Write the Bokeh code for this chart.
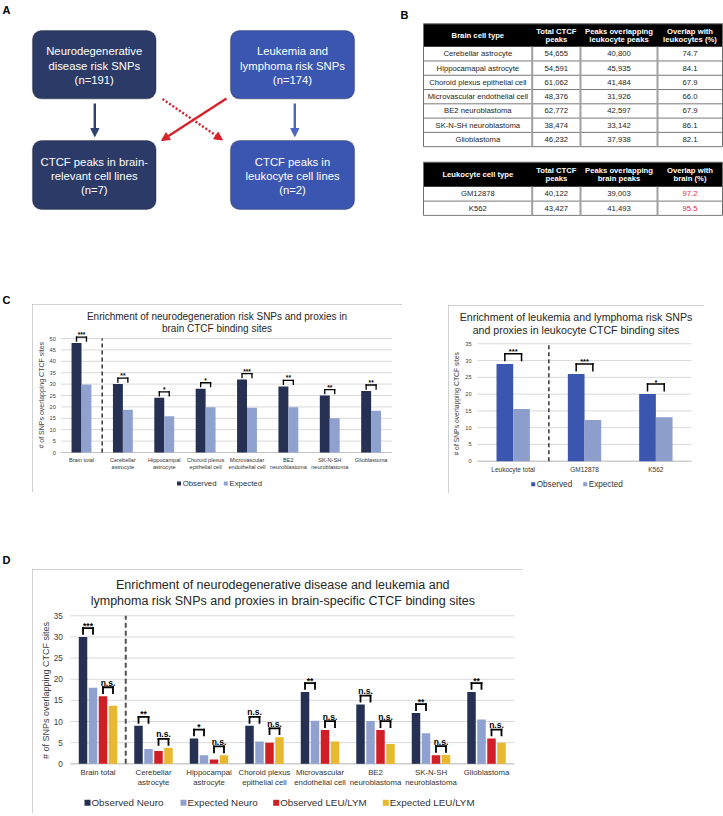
import numpy as np
from bokeh.plotting import figure
from bokeh.models import Range1d, BoxAnnotation, Arrow, NormalHead, Spacer
from bokeh.layouts import column, row
from bokeh.core.properties import value
from bokeh.embed import file_html
from bokeh.resources import INLINE

FONT = "Liberation Sans"

# ---------------- Panel A: flow diagram texts ----------------
flow_lines = [
    ["Neurodegenerative", "disease risk SNPs", "(n=191)"],
    ["Leukemia and", "lymphoma risk SNPs", "(n=174)"],
    ["CTCF peaks in brain-", "relevant cell lines", "(n=7)"],
    ["CTCF peaks in", "leukocyte cell lines", "(n=2)"],
]

# ---------------- Panel B: tables ----------------
brain_header = ["Brain cell type", "Total CTCF\npeaks", "Peaks overlapping\nleukocyte peaks",
                "Overlap with\nleukocytes (%)"]
brain_cell_types = ["Cerebellar astrocyte", "Hippocamapal astrocyte", "Choroid plexus epithelial cell",
                    "Microvascular endothelial cell", "BE2 neuroblastoma", "SK-N-SH neuroblastoma",
                    "Glioblastoma"]
brain_total_peaks = ["54,655", "54,591", "61,062", "48,376", "62,772", "38,474", "46,232"]
brain_overlap_peaks = ["40,800", "45,935", "41,484", "31,926", "42,597", "33,142", "37,938"]
brain_overlap_pct = ["74.7", "84.1", "67.9", "66.0", "67.9", "86.1", "82.1"]

leuk_header = ["Leukocyte cell type", "Total CTCF\npeaks", "Peaks overlapping\nbrain peaks",
               "Overlap with\nbrain (%)"]
leuk_cell_types = ["GM12878", "K562"]
leuk_total_peaks = ["40,122", "43,427"]
leuk_overlap_peaks = ["39,003", "41,493"]
leuk_overlap_pct = ["97.2", "95.5"]

# ---------------- Panel C ----------------
neuro_cats = ["Brain total", "Cerebellar\nastrocyte", "Hippocampal\nastrocyte",
              "Choroid plexus\nepithelial cell", "Microvascular\nendothelial cell",
              "BE2\nneuroblastoma", "SK-N-SH\nneuroblastoma", "Glioblastoma"]
neuro_observed = [48, 30, 24, 28, 32, 29, 25, 27]
neuro_expected = [29.8, 18.7, 15.9, 19.9, 19.6, 19.9, 15.0, 18.3]
neuro_sig = ["***", "**", "*", "*", "***", "**", "**", "**"]
neuro_ticks = [0, 5, 10, 15, 20, 25, 30, 35, 40, 45, 50]

leuk_cats = ["Leukocyte total", "GM12878", "K562"]
leuk_observed = [29, 26, 20]
leuk_expected = [15.6, 12.3, 13.1]
leuk_sig = ["***", "***", "*"]
leuk_ticks = [0, 5, 10, 15, 20, 25, 30, 35]

c_legend = ["Observed", "Expected"]

# ---------------- Panel D ----------------
d_cats = neuro_cats
d_obs_neuro = [30, 9, 6, 9, 17, 14, 12, 17]
d_exp_neuro = [18.0, 3.5, 2.0, 5.3, 10.2, 10.1, 7.2, 10.5]
d_obs_leu = [16, 3, 1, 5, 8, 8, 2, 6]
d_exp_leu = [13.7, 3.8, 2.0, 6.3, 5.3, 4.7, 2.1, 5.0]
d_sig_neuro = ["***", "**", "*", "n.s.", "**", "n.s.", "**", "**"]
d_sig_leu = ["n.s.", "n.s.", "n.s.", "n.s.", "n.s.", "n.s.", "n.s.", "n.s."]
d_ticks = [0, 5, 10, 15, 20, 25, 30, 35]
d_legend = ["Observed Neuro", "Expected Neuro", "Observed LEU/LYM", "Expected LEU/LYM"]

Y_LABEL = "# of SNPs overlapping CTCF sites"

NAVY = "#263052"
LIGHT = "#8FA1CE"
BLUE = "#3B56AF"
LIGHT2 = "#8D9ECC"
RED = "#D21F27"
GOLD = "#E8B830"

BOX_STYLE = {"outline": "1px solid #a3a3a3", "outline-offset": "-1px"}
TXT = dict(text_font=value(FONT))

# ======================= top figure (A + B) =======================
top = figure(width=723, height=290, x_range=Range1d(0, 723), y_range=Range1d(-290, 0),
             output_backend="svg", toolbar_location=None, x_axis_type=None, y_axis_type=None,
             min_border=0, outline_line_color=None, title=None)

top.text(x=[2, 400], y=[-3, -8], text=["A", "B"], text_font_style="bold",
         text_font_size=value("11px"), text_baseline="top", text_align="left", text_color="black", **TXT)

box_geo = [(32, 155.5, 30, 98.3), (230, 354, 30, 98.3), (32, 155.5, 140, 209), (230, 354, 140, 209)]
box_fill = ["#2B3A66", "#3A56B0", "#2B3A66", "#3A56B0"]
tx, ty, tt = [], [], []
for (l, r, t, b), fc, lines in zip(box_geo, box_fill, flow_lines):
    top.add_layout(BoxAnnotation(left=l, right=r, top=-t, bottom=-b, border_radius=9,
                                 fill_color=fc, fill_alpha=1, line_color="#151515",
                                 line_width=1.2, level="underlay"))
    cy = (t + b) / 2 + 0.9
    for k, s in enumerate(lines):
        tx.append((l + r) / 2)
        ty.append(-(cy + (k - 1) * 14.3))
        tt.append(s)
top.text(x=tx, y=ty, text=tt, text_font_size=value("11.3px"),
         text_color="white", text_align="center", text_baseline="middle", **TXT)

arrows = [((94.3, 103), (94.3, 136), "#2F4170", None),
          ((294.3, 103), (294.3, 136), "#4A66BE", None),
          ((226, 98), (161, 140), "#D7222A", None),
          ((162, 98.5), (222, 139.5), "#D7222A", "2 2")]
for (x0, y0), (x1, y1), c, dash in arrows:
    kw = dict(line_dash=dash) if dash else {}
    top.add_layout(Arrow(end=NormalHead(size=8, fill_color=c, line_color=c),
                         x_start=x0, y_start=-y0, x_end=x1, y_end=-y1,
                         line_color=c, line_width=2.4, **kw))

col_edges = np.array([423, 531.7, 580, 657, 722])


def draw_table(p, y0, header_h, row_h, header, columns, colors):
    xs = col_edges
    nrows = len(columns[0])
    yh = y0 + header_h
    yb = yh + nrows * row_h
    p.quad(left=[xs[0]], right=[xs[-1]], top=[-y0], bottom=[-yh], fill_color="black", line_color=None)
    hx, hy, ht = [], [], []
    for j, h in enumerate(header):
        parts = h.split("\n")
        mid = (y0 + yh) / 2
        for k, s in enumerate(parts):
            hx.append((xs[j] + xs[j + 1]) / 2)
            hy.append(-(mid + (k - (len(parts) - 1) / 2) * 8.4))
            ht.append(s)
    p.text(x=hx, y=hy, text=ht, text_font_size=value("7.7px"),
           text_font_style="bold", text_color="white", text_align="center", text_baseline="middle", **TXT)
    centers = yh + (np.arange(nrows) + 0.5) * row_h
    bx, by, bt, bc = [], [], [], []
    for j, col in enumerate(columns):
        for i, s in enumerate(col):
            bx.append((xs[j] + xs[j + 1]) / 2)
            by.append(-centers[i])
            bt.append(s)
            bc.append(colors[j])
    p.text(x=bx, y=by, text=bt, text_color=bc, text_font_size=value("7.7px"),
           text_align="center", text_baseline="middle", **TXT)
    hl = yh + np.arange(1, nrows + 1) * row_h
    p.segment(x0=[xs[0]] * nrows, x1=[xs[-1]] * nrows, y0=-hl, y1=-hl, line_color="#7a7a7a", line_width=1)
    p.segment(x0=list(xs[1:-1]), x1=list(xs[1:-1]), y0=[-yh] * 3, y1=[-yb] * 3,
              line_color="#a0a0a0", line_width=2)
    p.segment(x0=[xs[0], xs[-1], xs[0]], x1=[xs[0], xs[-1], xs[-1]], y0=[-y0, -y0, -y0],
              y1=[-yb, -yb, -y0], line_color="#6e6e6e", line_width=1)


draw_table(top, 23.3, 22.9, 14.28, brain_header,
           [brain_cell_types, brain_total_peaks, brain_overlap_peaks, brain_overlap_pct],
           ["#1e1e1e"] * 4)
draw_table(top, 161.7, 24.6, 14.3, leuk_header,
           [leuk_cell_types, leuk_total_peaks, leuk_overlap_peaks, leuk_overlap_pct],
           ["#1e1e1e", "#1e1e1e", "#1e1e1e", "#E02B2B"])


# ======================= bar charts =======================
def bar_chart(cats, series, names, colors, pairs, ticks, c):
    bl, bt, bw, bh = c["box"]
    c0, u, y0, kk = c["c0"], c["u"], c["y0"], c["k"]

    def X(px):
        return (px - c0) / u

    def Y(py):
        return (y0 - py) / kk

    p = figure(width=bw, height=bh, x_range=Range1d(X(bl), X(bl + bw)),
               y_range=Range1d(Y(bt + bh), Y(bt)), output_backend="svg", toolbar_location=None,
               x_axis_type=None, y_axis_type=None, min_border=0, outline_line_color=None,
               title=None, styles=BOX_STYLE)
    n = len(cats)
    idx = np.arange(n, dtype=float)
    tk = np.array(ticks, dtype=float)
    ymax = tk[-1]
    # value grid and baseline
    p.segment(x0=[-0.5] * len(tk), x1=[n - 0.5] * len(tk), y0=tk, y1=tk, line_color="#d9d9d9", line_width=1)
    p.segment(x0=[-0.5], x1=[n - 0.5], y0=[0], y1=[0], line_color="#c4c4c4", line_width=1)
    # value tick labels
    p.text(x=[-0.5] * len(tk), y=tk, text=[str(t) for t in ticks], x_offset=-c["tick_standoff"],
           text_font_size=value(c["tick_size"]), text_color="#404040", text_align="right",
           text_baseline="middle", **TXT)
    # axis title
    p.text(x=[X(c["ylab_x"])], y=[Y(c["ylab_y"])], text=[Y_LABEL], angle=np.pi / 2,
           text_font_size=value(c["ylab_size"]), text_color="#404040", text_align="center",
           text_baseline="middle", **TXT)
    # bars
    for s, col, dx in zip(series, colors, c["dodges"]):
        p.vbar(x=idx + dx, top=s, width=c["bar_w"], fill_color=col, line_color=None)
    # significance brackets
    for a, b, sig in pairs:
        hi = np.maximum(np.array(series[a], float), np.array(series[b], float)) + c["br_off"]
        xa = idx + c["dodges"][a]
        xb = idx + c["dodges"][b]
        for x0, x1, y1 in [(xa, xb, hi), (xa, xa, hi - c["br_leg"]), (xb, xb, hi - c["br_leg"])]:
            p.segment(x0=x0, x1=x1, y0=hi, y1=y1, line_color="black", line_width=c["br_w"],
                      line_cap="square")
        dy = [c["ns_dy"] if s_ == "n.s." else c["star_dy"] for s_ in sig]
        p.text(x=(xa + xb) / 2, y=hi, text=sig, y_offset=dy, text_font_size=value(c["sig_size"]),
               text_font_style="bold", text_align="center", text_baseline="alphabetic",
               text_color="black", **TXT)
    # dashed separator after the "total" group
    p.segment(x0=[0.5], x1=[0.5], y0=[0], y1=[ymax], line_color=c["sep_c"], line_dash=c["sep_dash"],
              line_width=c["sep_w"])
    # category labels
    lx, lt, lo = [], [], []
    for i, cat in enumerate(cats):
        for j, line in enumerate(cat.split("\n")):
            lx.append(i)
            lt.append(line)
            lo.append(c["cat_dy"] + j * c["cat_ls"])
    p.text(x=lx, y=[0] * len(lx), text=lt, y_offset=lo, text_font_size=value(c["cat_size"]),
           text_color="#333333", text_align="center", text_baseline="middle", **TXT)
    # chart title
    p.text(x=[X(c["title_x"])] * len(c["titles"]), y=[Y(v) for v in c["title_y"]], text=c["titles"],
           text_font_size=value(c["title_size"]), text_color="#262626", text_align="center",
           text_baseline="middle", **TXT)
    # legend
    g = c["leg_g"]
    m = len(names)
    p.rect(x=[X(v + g / 2) for v in c["leg_sq"]], y=[Y(c["leg_y"])] * m, width=g, height=g,
           width_units="screen", height_units="screen", fill_color=list(colors), line_color=None)
    p.text(x=[X(v + g + c["leg_gap"]) for v in c["leg_sq"]], y=[Y(c["leg_y"])] * m, text=names,
           text_font_size=value(c["leg_size"]), text_color="#333333", text_align="left",
           text_baseline="middle", **TXT)
    return p


cl_cfg = dict(box=(32, 304, 370, 188), c0=81.0, u=41.375, y0=452.0, k=2.28,
              bar_w=0.24, dodges=(-0.12, 0.12),
              tick_size="5.6px", tick_standoff=5, ylab_x=40.7, ylab_y=394.7, ylab_size="7px",
              cat_size="5.6px", cat_dy=7.3, cat_ls=7.4,
              titles=["Enrichment of neurodegeneration risk SNPs and proxies in", "brain CTCF binding sites"],
              title_x=216.5, title_y=(316, 328), title_size="10px",
              leg_y=483, leg_sq=(176.5, 223.3), leg_g=4, leg_gap=1.7, leg_size="7.8px",
              br_off=2.6, br_leg=1.75, br_w=1.3, sig_size="6.5px", star_dy=-2.5, ns_dy=-4,
              sep_w=1.5, sep_dash="4 3", sep_c="#333333")
c_left = bar_chart(neuro_cats, [neuro_observed, neuro_expected], c_legend,
                   [NAVY, LIGHT], [(0, 1, neuro_sig)], neuro_ticks, cl_cfg)

cr_cfg = dict(box=(448, 305, 256, 188), c0=512.7, u=71.33, y0=460.7, k=3.354,
              bar_w=0.234, dodges=(-0.117, 0.117),
              tick_size="5.6px", tick_standoff=6, ylab_x=456, ylab_y=403.3, ylab_size="6.8px",
              cat_size="6.5px", cat_dy=8.3, cat_ls=8,
              titles=["Enrichment of leukemia and lymphoma risk SNPs",
                      "and proxies in leukocyte CTCF binding sites"],
              title_x=575.5, title_y=(316.7, 329.3), title_size="10.6px",
              leg_y=483.7, leg_sq=(530.7, 582.7), leg_g=4, leg_gap=1.5, leg_size="8.2px",
              br_off=3.0, br_leg=2.0, br_w=1.5, sig_size="7.5px", star_dy=-2, ns_dy=-4,
              sep_w=1.5, sep_dash="4 3", sep_c="#333333")
c_right = bar_chart(leuk_cats, [leuk_observed, leuk_expected], c_legend,
                    [BLUE, LIGHT2], [(0, 1, leuk_sig)], leuk_ticks, cr_cfg)

d_cfg = dict(box=(32, 569, 490, 244), c0=97.5, u=55.5, y0=763.3, k=4.229,
             bar_w=0.153, dodges=(-0.27, -0.09, 0.09, 0.27),
             tick_size="8.2px", tick_standoff=7.5, ylab_x=45, ylab_y=690, ylab_size="9px",
             cat_size="7.8px", cat_dy=9, cat_ls=10,
             titles=["Enrichment of neurodegenerative disease and leukemia and",
                     "lymphoma risk SNPs and proxies in brain-specific CTCF binding sites"],
             title_x=282.3, title_y=(584.3, 600), title_size="12.5px",
             leg_y=802.3, leg_sq=(84, 180, 272.7, 382.3), leg_g=6, leg_gap=1, leg_size="9.8px",
             br_off=2.1, br_leg=1.4, br_w=1.8, sig_size="8.5px", star_dy=-2.5, ns_dy=-4.5,
             sep_w=2, sep_dash="5 3", sep_c="#505050")
d_fig = bar_chart(d_cats, [d_obs_neuro, d_exp_neuro, d_obs_leu, d_exp_leu], d_legend,
                  [NAVY, LIGHT, RED, GOLD], [(0, 1, d_sig_neuro), (2, 3, d_sig_leu)], d_ticks, d_cfg)


def letter_fig(letter, w, h, y_top):
    f = figure(width=w, height=h, x_range=Range1d(0, w), y_range=Range1d(-h, 0),
               output_backend="svg", toolbar_location=None, x_axis_type=None, y_axis_type=None,
               min_border=0, outline_line_color=None, title=None)
    f.text(x=[2], y=[-y_top], text=[letter], text_font_style="bold",
           text_font_size=value("11px"), text_baseline="top", text_align="left", text_color="black", **TXT)
    return f


c_row = row(letter_fig("C", 32, 210, 3),
            column(Spacer(width=370, height=14), c_left),
            Spacer(width=46, height=10),
            column(Spacer(width=256, height=15), c_right))
d_row = row(letter_fig("D", 32, 316, 53),
            column(Spacer(width=490, height=69), d_fig))
layout = column(top, c_row, d_row)

open("out.html", "w").write(file_html(layout, INLINE))
